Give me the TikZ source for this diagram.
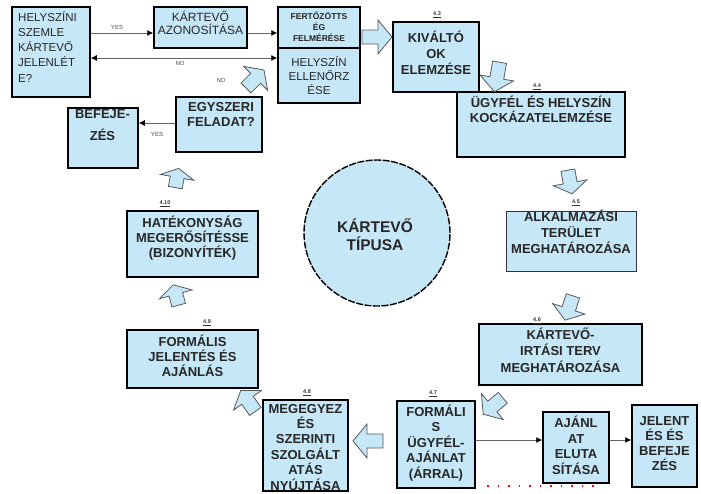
\documentclass[tikz,border=0pt]{standalone}
\usepackage{fontspec}
\setmainfont{Liberation Sans}
\usetikzlibrary{arrows.meta}
\definecolor{lb}{RGB}{198,231,247}
\definecolor{ln}{RGB}{100,100,100}
\begin{document}
\begin{tikzpicture}[x=1pt,y=-1pt,
 box/.style={draw=black,line width=1.5pt,fill=lb,inner sep=0pt,rectangle},
 btxt/.style={font=\bfseries\fontsize{13}{15.5}\selectfont,align=center,inner sep=0pt,text=black!85,
   execute at begin node=\vphantom{Ő},execute at end node=\vphantom{(}},
 rtxt/.style={font=\fontsize{11.5}{14}\selectfont,align=center,inner sep=0pt,text=black!85,
   execute at begin node=\vphantom{Ő},execute at end node=\vphantom{(}},
 num/.style={font=\bfseries\fontsize{5.5}{6}\selectfont,inner sep=0pt,text=black!80},
 lbl/.style={font=\fontsize{6}{7}\selectfont,inner sep=0pt,text=black!70},
 conn/.style={draw=ln,line width=0.9pt},
 tip/.style={-{Latex[length=6pt,width=6pt,color=black]}},
 barrowstyle/.style={draw=black!65,line width=0.8pt,fill=lb,line join=miter},
 barrow/.pic={\path[barrowstyle] (-15,-7)--(1,-7)--(1,-17)--(15,0)--(1,17)--(1,7)--(-15,7)--cycle;}
]
\useasboundingbox[fill=white] (0,0) rectangle (701,493);

% ---------- boxes ----------
\node[box,minimum width=78,minimum height=90] (b1) at (51,52) {};
\node[rtxt,align=left,anchor=west,font=\fontsize{11.5}{15.2}\selectfont] (t1) at (18,48) {HELYSZÍNI\\SZEMLE\\KÁRTEVŐ\\JELENLÉT\\E?};

\node[box,minimum width=93,minimum height=41] (b2) at (200.5,27.5) {};
\node[rtxt,font=\fontsize{12}{13.5}\selectfont] (t2) at (200.5,24) {KÁRTEVŐ\\AZONOSÍTÁSA};

\node[box,minimum width=82,minimum height=41] (b3) at (319,27.5) {};
\node[btxt,font=\bfseries\fontsize{8.5}{11}\selectfont] (t3) at (319,28) {FERTŐZÖTTS\\ÉG\\FELMÉRÉSE};

\node[box,minimum width=82,minimum height=55] (b4) at (319,75.5) {};
\node[rtxt] (t4) at (319,77) {HELYSZÍN\\ELLENŐRZ\\ÉSE};

\node[box,minimum width=86,minimum height=70] (b5) at (436,57) {};
\node[btxt,font=\bfseries\fontsize{13}{16}\selectfont] (t5) at (436,54) {KIVÁLTÓ\\OK\\ELEMZÉSE};
\node[num] (n3) at (437,15) {\underline{4.3}};

\node[box,minimum width=168,minimum height=65] (b6) at (541,124.5) {};
\node[btxt,font=\bfseries\fontsize{13}{15}\selectfont] (t6) at (541,110.5) {ÜGYFÉL ÉS HELYSZÍN\\KOCKÁZATELEMZÉSE};
\node[num] (n4) at (537,87) {\underline{4.4}};

\node[box,line width=0.8pt,draw=black!80,minimum width=130,minimum height=60] (b7) at (571,241) {};
\node[btxt,font=\bfseries\fontsize{13}{16}\selectfont] (t7) at (571,233) {ALKALMAZÁSI\\TERÜLET\\MEGHATÁROZÁSA};
\node[num] (n5) at (576,203) {\underline{4.5}};

\node[box,line width=2.2pt,minimum width=163,minimum height=61] (b8) at (560.5,354.5) {};
\node[btxt,font=\bfseries\fontsize{13}{16.5}\selectfont] (t8) at (560.5,351.5) {KÁRTEVŐ-\\IRTÁSI TERV\\MEGHATÁROZÁSA};
\node[num] (n6) at (537,321) {\underline{4.6}};

\node[box,minimum width=78,minimum height=87] (b9) at (436,444.5) {};
\node[btxt] (t9) at (436,443) {FORMÁLI\\S\\ÜGYFÉL-\\AJÁNLAT\\(ÁRRAL)};
\node[num] (n7) at (433,394) {\underline{4.7}};

\node[box,minimum width=66,minimum height=71] (b10) at (576,447.5) {};
\node[btxt,font=\bfseries\fontsize{13}{15.7}\selectfont] (t10) at (576,446.5) {AJÁNL\\AT\\ELUTA\\SÍTÁSA};

\node[box,minimum width=65,minimum height=82] (b11) at (664.5,446) {};
\node[btxt,font=\bfseries\fontsize{13}{15}\selectfont] (t11) at (664.5,444.5) {JELENT\\ÉS ÉS\\BEFEJE\\ZÉS};

\node[box,minimum width=85,minimum height=91] (b12) at (305.5,445.5) {};
\node[btxt,font=\bfseries\fontsize{13}{15.4}\selectfont] (t12) at (305.5,448.5) {MEGEGYEZ\\ÉS\\SZERINTI\\SZOLGÁLT\\ATÁS\\NYÚJTÁSA};
\node[num] (n8) at (307,393) {\underline{4.8}};

\node[box,minimum width=131,minimum height=58] (b13) at (192.5,359) {};
\node[btxt,font=\bfseries\fontsize{13}{15}\selectfont] (t13) at (192.5,357) {FORMÁLIS\\JELENTÉS ÉS\\AJÁNLÁS};
\node[num] (n9) at (207,323) {\underline{4.9}};

\node[box,minimum width=131,minimum height=66] (b14) at (192.5,244) {};
\node[btxt,font=\bfseries\fontsize{13}{15}\selectfont] (t14) at (192.5,238) {HATÉKONYSÁG\\MEGERŐSÍTÉSSE\\(BIZONYÍTÉK)};
\node[num] (n10) at (165,204) {\underline{4.10}};

\node[circle,draw=black,line width=1.4pt,dash pattern=on 7pt off 1.5pt,fill=lb,minimum size=146,inner sep=0pt] (c) at (377,233) {};
\node[btxt,font=\bfseries\fontsize{15.5}{18}\selectfont] (tc) at (375,236) {KÁRTEVŐ\\TÍPUSA};

\node[box,minimum width=70,minimum height=60] (b16) at (103,138) {};
\node[btxt,font=\bfseries\fontsize{13}{22}\selectfont] (t16) at (102.5,126) {BEFEJE-\\ZÉS};

\node[box,minimum width=86,minimum height=55] (b17) at (219,124.5) {};
\node[btxt,font=\bfseries\fontsize{13}{15}\selectfont] (t17) at (221,116) {EGYSZERI\\FELADAT?};

% ---------- thin connectors ----------
\coordinate (y33) at (0,33);
\coordinate (y58) at (0,58);
\coordinate (y123) at (0,123);
\coordinate (y440) at (0,440);
\draw[conn,tip] (b1.east |- y33) -- (b2.west |- y33);
\draw[conn,tip] (b2.east |- y33) -- (b3.west |- y33);
\draw[conn,{Latex[length=6pt,width=6pt,color=black]}-{Latex[length=6pt,width=6pt,color=black]}] (b1.east |- y58) -- (b4.west |- y58);
\draw[conn,tip] (b17.west |- y123) -- (b16.east |- y123);
\draw[conn,tip] (b9.east |- y440) -- (b10.west |- y440);
\draw[conn,tip] (b10.east |- y440) -- (b11.west |- y440);

\node[lbl] (yes1) at (117,27) {YES};
\node[lbl] (no1) at (180,63) {NO};
\node[lbl] (no2) at (221,80) {NO};
\node[lbl] (yes2) at (157,134) {YES};

% ---------- block arrows ----------
\pic[rotate=0] at (377,37) {barrow};
\pic[rotate=-100] at (497,77) {barrow};
\pic[rotate=-80,xscale=0.8] at (570,182) {barrow};
\pic[rotate=-108,xscale=0.85] at (569,308) {barrow};
\pic[rotate=-140,xscale=0.85] at (493,406) {barrow};
\pic[rotate=180] at (368,441) {barrow};
\pic[rotate=125,xscale=0.85] at (248,401) {barrow};
\pic[rotate=105,xscale=0.7] at (176,295) {barrow};
\pic[rotate=80,xscale=0.65] at (177,178) {barrow};
\pic[rotate=45,xscale=0.85] at (255,79) {barrow};

% red marks at bottom
\draw[red,line width=1.4pt,dash pattern=on 1.5pt off 9pt] (487,486) -- (597,486);
\end{tikzpicture}
\end{document}
